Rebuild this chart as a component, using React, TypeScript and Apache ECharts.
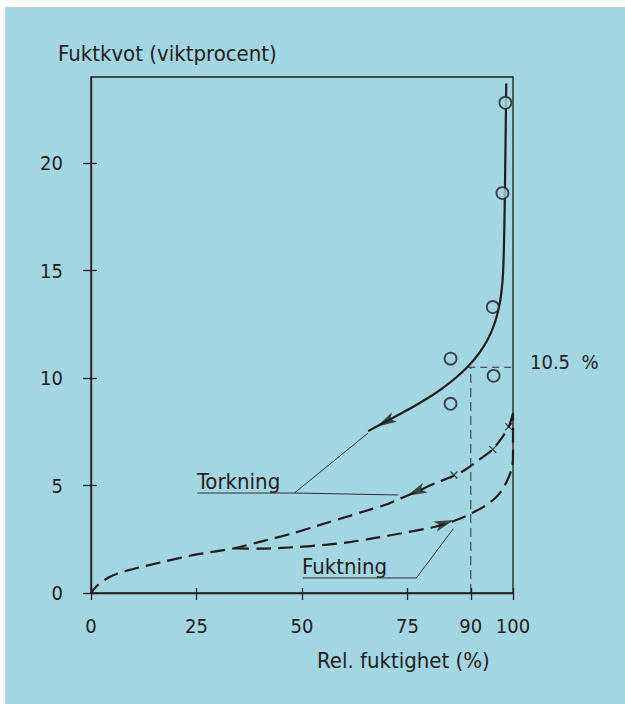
import React, { useEffect, useRef } from "react";
import * as echarts from "echarts";

// ---- data ----
const xTicks = [0, 25, 50, 75, 90, 100];
const yTicks = [0, 5, 10, 15, 20];

// Desorption (Torkning), solid upper branch
const torkningSolid: [number, number][] = [
  [98.4, 23.7], [98.21, 20.6], [98.05, 18.28], [97.86, 16.19], [97.62, 14.79],
  [97.26, 14.0], [96.69, 13.3], [95.64, 12.54], [94.07, 11.81], [91.93, 11.14],
  [89.33, 10.54], [86.38, 10.0], [83.19, 9.51], [79.83, 9.07], [76.36, 8.66],
  [72.81, 8.28], [69.24, 7.91], [65.67, 7.53],
];

// Desorption (Torkning), dashed lower branch down to origin
const torkningDashed: [number, number][] = [
  [100, 8.36], [99.0, 7.74], [97.3, 7.2], [95.2, 6.68], [92.0, 6.2], [88.6, 5.72],
  [86.1, 5.46], [81.5, 5.1], [77.0, 4.7], [72.8, 4.35], [69.6, 4.09], [65.6, 3.85],
  [60.2, 3.52], [56.1, 3.28], [48.2, 2.8], [40.2, 2.39], [33.9, 2.08],
  [24.4, 1.77], [16.4, 1.42], [8.5, 1.04], [4.5, 0.76], [1.5, 0.35], [0, 0],
];

// Adsorption (Fuktning), dashed
const fuktningDashed: [number, number][] = [
  [33.9, 2.08], [40.0, 2.06], [48.0, 2.13], [56.0, 2.25], [61.7, 2.38],
  [67.0, 2.55], [73.6, 2.78], [81.5, 3.08], [86.0, 3.35], [88.2, 3.52],
  [90.2, 3.71], [92.5, 3.95], [94.2, 4.17], [96.0, 4.45], [97.4, 4.79],
  [98.8, 5.3], [99.8, 5.87], [100, 6.5], [100, 8.36],
];

// measured points
const circlePoints: [number, number][] = [
  [98.2, 22.8], [97.5, 18.6], [95.2, 13.3], [85.2, 10.9], [95.4, 10.1], [85.2, 8.8],
];
const crossPoints: [number, number][] = [
  [99.0, 7.74], [95.2, 6.68], [86.0, 5.49],
];

// arrow heads: position and direction (degrees)
const arrowPoints: [number, number][] = [[67.76, 7.75], [74.9, 4.52], [86.0, 3.4]];
const arrowAngles = [118, 114.5, -70.6];

// reference lines at 90 % / 10.5 %
const refH: [number, number][] = [[89.4, 10.5], [101.6, 10.5]];
const refV: [number, number][] = [[90, 0], [90, 10.5]];

// label leader lines
const torkLeader1: [number, number][] = [[25.2, 4.65], [48.2, 4.65], [65.6, 7.43]];
const torkLeader2: [number, number][] = [[48.2, 4.65], [72.8, 4.56]];
const fuktLeader: [number, number][] = [[50.2, 0.7], [77.1, 0.7], [85.9, 3.0]];

const BG = "#a3d6e3";
const INK = "#1e1e1e";
const FONT = "'Liberation Sans Narrow', 'DejaVu Sans Condensed', 'Open Sans', sans-serif";

export default function App() {
  const ref = useRef<HTMLDivElement>(null);
  useEffect(() => {
    if (!ref.current) return;
    const chart = echarts.init(ref.current, undefined, { renderer: "svg" });
    const gridPos = { left: 91, top: 77, right: 112, bottom: 111 };
    const thin = (data: [number, number][], extra: any = {}) => ({
      type: "line",
      data,
      symbol: "none",
      silent: true,
      clip: false,
      lineStyle: { color: INK, width: 0.9, ...extra },
      z: 1,
    });
    chart.setOption({
      animation: false,
      backgroundColor: "#ffffff",
      textStyle: { fontFamily: FONT },
      graphic: [
        { type: "rect", z: -10, shape: { x: 5, y: 7, width: 620, height: 697 }, style: { fill: BG } },
        { type: "text", left: 58, top: 42, style: { text: "Fuktkvot (viktprocent)", fontSize: 22, fontFamily: FONT, fill: INK } },
        { type: "text", left: 317, top: 649, style: { text: "Rel. fuktighet (%)", fontSize: 22, fontFamily: FONT, fill: INK } },
        { type: "text", left: 530, top: 352, style: { text: "10.5  %", fontSize: 20, fontFamily: FONT, fill: INK } },
        { type: "text", left: 197, top: 470, style: { text: "Torkning", fontSize: 22, fontFamily: FONT, fill: INK } },
        { type: "text", left: 302, top: 555, style: { text: "Fuktning", fontSize: 22, fontFamily: FONT, fill: INK } },
      ],
      grid: [
        { ...gridPos, show: true, borderColor: INK, borderWidth: 1.3, backgroundColor: "transparent" },
        { ...gridPos },
      ],
      xAxis: [
        {
          type: "value", gridIndex: 0, min: 0, max: 100,
          axisLine: { show: true, lineStyle: { color: INK, width: 1.3 } },
          axisTick: { show: true, customValues: xTicks, length: 7, lineStyle: { color: INK, width: 1.3 } },
          axisLabel: { customValues: xTicks, margin: 23, fontSize: 20, color: INK, fontFamily: FONT },
          splitLine: { show: false },
        },
        {
          type: "value", gridIndex: 1, min: 0, max: 100,
          axisLine: { show: false },
          axisTick: { show: true, inside: true, customValues: xTicks, length: 5, lineStyle: { color: INK, width: 1.3 } },
          axisLabel: { show: false },
          splitLine: { show: false },
        },
      ],
      yAxis: [
        {
          type: "value", gridIndex: 0, min: 0, max: 24,
          axisLine: { show: true, lineStyle: { color: INK, width: 1.3 } },
          axisTick: { show: true, customValues: yTicks, length: 8, lineStyle: { color: INK, width: 1.3 } },
          axisLabel: { customValues: yTicks, margin: 28, fontSize: 20, color: INK, fontFamily: FONT },
          splitLine: { show: false },
        },
        {
          type: "value", gridIndex: 1, min: 0, max: 24,
          axisLine: { show: false },
          axisTick: { show: true, inside: true, customValues: yTicks, length: 6, lineStyle: { color: INK, width: 1.3 } },
          axisLabel: { show: false },
          splitLine: { show: false },
        },
      ],
      series: [
        thin(refH, { type: [7, 5] }),
        thin(refV, { type: [9, 5] }),
        thin(torkLeader1),
        thin(torkLeader2),
        thin(fuktLeader),
        {
          name: "Torkning", type: "line", data: torkningSolid, symbol: "none", smooth: 0.3,
          lineStyle: { color: INK, width: 2.2 }, z: 2,
        },
        {
          name: "Torkning (streckad)", type: "line", data: torkningDashed, symbol: "none", smooth: 0.3,
          lineStyle: { color: INK, width: 2.2, type: [15, 7] }, z: 2,
        },
        {
          name: "Fuktning", type: "line", data: fuktningDashed, symbol: "none", smooth: 0.3,
          lineStyle: { color: INK, width: 2.2, type: [15, 7] }, z: 2,
        },
        {
          type: "scatter", data: circlePoints, symbol: "circle", symbolSize: 12,
          itemStyle: { color: BG, borderColor: INK, borderWidth: 1.8 }, z: 3,
        },
        {
          type: "scatter", data: crossPoints, symbol: "path://M0 0L10 10M10 0L0 10", symbolSize: 7,
          itemStyle: { color: "transparent", borderColor: INK, borderWidth: 1.3 }, z: 3,
        },
        {
          type: "scatter",
          data: arrowPoints.map((p, i) => ({ value: p, symbolRotate: arrowAngles[i] })),
          symbol: "arrow", symbolSize: [8, 20],
          itemStyle: { color: INK }, z: 4,
        },
      ],
    });
    return () => chart.dispose();
  }, []);
  return (
    <div
      ref={ref}
      style={{ position: "absolute", left: 0, top: 0, width: 625, height: 704 }}
    />
  );
}
